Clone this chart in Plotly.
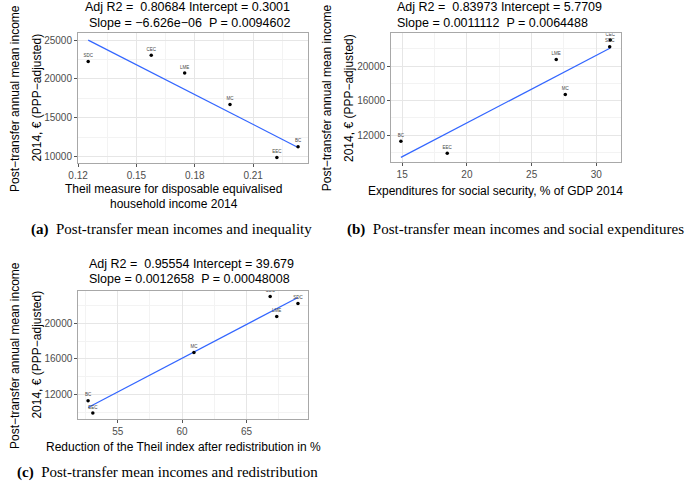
import plotly.graph_objects as go
import numpy as np

# ---------------- data ----------------
regimes = ["SDC", "CEC", "LME", "MC", "EEC", "BC"]
income = [22240, 23025, 20760, 16710, 9885, 11280]
theil = [0.1252, 0.1576, 0.1748, 0.1981, 0.2222, 0.2331]
social_exp = [31.03, 31.08, 26.9, 27.6, 18.48, 14.9]
theil_reduction = [69.0, 66.84, 67.35, 60.92, 53.07, 52.7]

titles_a = ["Adj R2 = \u00a00.80684 Intercept = 0.3001", "Slope = \u22126.626e\u221206 \u00a0P = 0.0094602"]
titles_b = ["Adj R2 = \u00a00.83973 Intercept = 5.7709", "Slope = 0.0011112 \u00a0P = 0.0064488"]
titles_c = ["Adj R2 = \u00a00.95554 Intercept = 39.679", "Slope = 0.0012658 \u00a0P = 0.00048008"]
ytitle = ["Post\u2212transfer annual mean income", "2014, \u20ac (PPP\u2212adjusted)"]
xtitle_a = ["Theil measure for disposable equivalised", "household income 2014"]
xtitle_b = "Expenditures for social security, % of GDP 2014"
xtitle_c = "Reduction of the Theil index after redistribution in %"
captions = [("(a)", "Post-transfer mean incomes and inequality"),
            ("(b)", "Post-transfer mean incomes and social expenditures"),
            ("(c)", "Post-transfer mean incomes and redistribution")]

W, H = 685, 485
def px(x): return x / W
def py(y): return 1 - y / H

SANS = "Liberation Sans, Arial, sans-serif"
SERIF = "Liberation Serif, Times New Roman, serif"

fig = go.Figure()

panels = [
    dict(x=theil, xa="x", ya="y"),
    dict(x=social_exp, xa="x2", ya="y2"),
    dict(x=theil_reduction, xa="x3", ya="y3"),
]
for p in panels:
    xv = np.array(p["x"], dtype=float)
    yv = np.array(income, dtype=float)
    slope, icpt = np.polyfit(xv, yv, 1)
    xl = np.array([xv.min(), xv.max()])
    fig.add_trace(go.Scatter(x=xl, y=slope * xl + icpt, mode="lines",
                             line=dict(color="#3366FF", width=1.2),
                             xaxis=p["xa"], yaxis=p["ya"], showlegend=False, hoverinfo="skip"))
    fig.add_trace(go.Scatter(x=p["x"], y=income, mode="markers+text", text=regimes,
                             textposition="top center",
                             textfont=dict(family=SANS, size=4.5, color="#444"),
                             marker=dict(color="black", size=3.5),
                             xaxis=p["xa"], yaxis=p["ya"], showlegend=False))

common = dict(showgrid=True, gridcolor="#E6E6E6", gridwidth=1, zeroline=False,
              showline=True, mirror=True, linecolor="#A8A8A8", linewidth=1,
              ticks="outside", ticklen=3, tickcolor="#555555", tickwidth=1,
              tickfont=dict(family=SANS, size=10, color="#4D4D4D"))

def minor(d):
    return dict(dtick=d, showgrid=True, gridcolor="#F3F3F3", gridwidth=0.6, ticks="")

fig.update_layout(
    width=W, height=H, margin=dict(l=0, r=0, t=0, b=0),
    paper_bgcolor="white", plot_bgcolor="white", showlegend=False,
    xaxis=dict(common, domain=[px(69), px(302)], range=[0.11995, 0.238],
               tick0=0.12, dtick=0.03, tickformat=".2f", minor=minor(0.015), anchor="y"),
    yaxis=dict(common, domain=[py(163), py(33)], range=[9190, 25900],
               tick0=10000, dtick=5000, tickformat="d", minor=minor(2500), anchor="x"),
    xaxis2=dict(common, domain=[px(386.7), px(620)], range=[14.14, 31.9],
                tick0=15, dtick=5, minor=minor(2.5), anchor="y2"),
    yaxis2=dict(common, domain=[py(162.3), py(33.3)], range=[8835, 23791],
                tick0=12000, dtick=4000, tickformat="d", minor=minor(2000), anchor="x2"),
    xaxis3=dict(common, domain=[px(69.3), px(302.3)], range=[51.94, 69.77],
                tick0=55, dtick=5, minor=minor(2.5), anchor="y3"),
    yaxis3=dict(common, domain=[py(419), py(290.7)], range=[9217, 23673],
                tick0=12000, dtick=4000, tickformat="d", minor=minor(2000), anchor="x3"),
)

ann = []
def text(s, x, y, size=12, xanchor="center", angle=0, family=SANS, color="black"):
    ann.append(dict(text=s, x=px(x), y=py(y), xref="paper", yref="paper",
                    xanchor=xanchor, yanchor="middle", showarrow=False,
                    textangle=angle, font=dict(family=family, size=size, color=color)))

# titles
text(titles_a[0], 286, 7.5, 12.5, "right")
text(titles_a[1], 286, 22.5, 12.5, "right")
text(titles_b[0], 390.7, 7.5, 12.5, "left")
text(titles_b[1], 390.7, 22.5, 12.5, "left")
text(titles_c[0], 78.3, 264.3, 12.5, "left")
text(titles_c[1], 78.3, 279.3, 12.5, "left")

# y titles
for (x1, x2, yc) in [(5, 27, 98), (322, 344, 98), (5, 27, 355)]:
    text(ytitle[0], x1, yc, 12, angle=-90)
    text(ytitle[1], x2, yc, 12, angle=-90)

# x titles
text(xtitle_a[0], 166, 189, 12)
text(xtitle_a[1], 166, 204, 12)
text(xtitle_b, 493, 190.7, 12)
text(xtitle_c, 176, 446.7, 12)

# captions
for (lab, cap), (x, y) in zip(captions, [(19, 229), (340, 229), (5, 472)]):
    text("<b>" + lab + "</b>\u00a0 " + cap, x, y, 15, "left", family=SERIF)

fig.update_layout(annotations=ann)
fig.write_html("out.html", config={"displayModeBar": False},
               post_script="document.body.style.margin='0px';")
